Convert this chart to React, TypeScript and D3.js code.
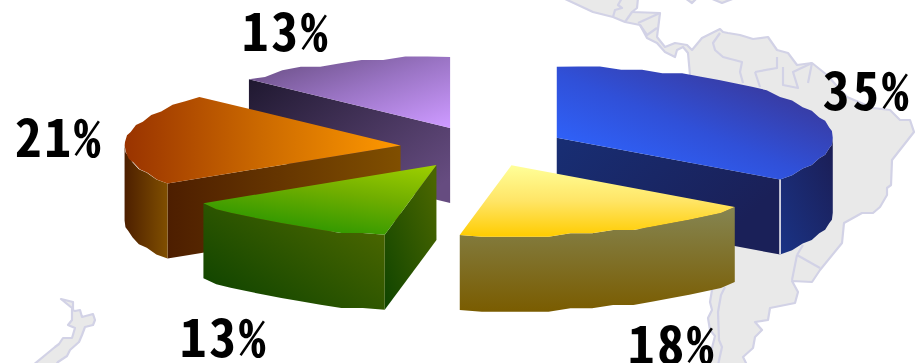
import React from "react";
import * as d3 from "d3";

// Share of each region, clockwise from twelve o'clock.
const regions = ["A", "B", "C", "D", "E"];
const shares = [35, 18, 13, 21, 13];

const topStops = [
  ["#2f62fa", "#3050d8", "#383ca4"],
  ["#ffff99", "#ffe566", "#ffcc00"],
  ["#9fd000", "#70ae00", "#339900"],
  ["#ff9900", "#cc6a00", "#993300"],
  ["#cc99ff", "#9a74c4", "#664c80"],
];
const rimStops = [
  ["#1a3283", "#1b1e56"],
  ["#858552", "#7a5c00"],
  ["#0f4400", "#4a6600"],
  ["#4d1f00", "#804f00"],
  ["#1f1830", "#1f1830"],
];
const sideStops = [
  ["#182e74", "#1a2058"],
  ["#858552", "#7a5c00"],
  ["#0f4400", "#4a6600"],
  ["#4d1e00", "#804f00"],
  ["#1f1830", "#664c80"],
];
// Gradient direction in each part's bounding box: x1, y1, x2, y2.
const topVectors = [
  [0, 0.68, 0.62, 0.05],
  [0, 0, 0, 1],
  [1, 0, 0.5, 0.95],
  [1, 0, 0, 0],
  [1, 0.95, 0.05, 0],
];
const rimVectors = [
  [0.1, 1, 1, 0.1],
  [0, 0, 0, 1],
  [0.15, 1, 1, 0.25],
  [0, 0, 1, 0],
  [0, 0, 1, 0],
];
const sideVectors = [
  [0, 0, 0.95, 0.5],
  [0, 0, 0, 1],
  [0, 1, 0.95, 0.1],
  [0, 0, 1, 0],
  [0, 0, 1, 0.8],
];
const labelBoxes = [
  [823, 110],
  [628, 364],
  [180, 357],
  [15, 157],
  [242, 51],
];
const nudges = [
  [0, 0],
  [-2, -2],
  [0, 0],
  [0, 0],
  [0, 0],
];

const centre = [483, 147.5];
const radiusX = 276;
const radiusY = 71;
const depth = 75;
const explode = 0.3;
const stepY = 3.4;
const stepAngle = (4.5 * Math.PI) / 180;

// Landmasses and national borders drawn faintly behind the pie.
const landAreas = [
  "M563,-2L593,12L613,17L625,22L640,25L647,38L657,43L665,52L675,57L677,50L683,47L688,53L690,75L692,150L712,290L710,302L712,310L708,318L710,330L715,336L711,352L708,365L747,365L743,357L753,348L755,337L762,330L755,322L768,320L770,308L795,303L798,292L792,281L812,282L820,270L842,243L844,223L862,213L873,213L880,207L887,195L887,188L891,185L892,160L914,132L910,120L900,120L890,110L873,108L847,97L827,75L812,63L797,65L788,53L777,50L768,37L753,39L740,35L728,33L723,32L720,29L702,38L692,50L687,45L675,43L665,47L657,37L660,13L632,12L637,8L638,-2Z",
  "M685,-2L692,3L697,-2Z",
  "M710,-2L722,3L735,-2Z",
  "M61,299L73,302L73,310L75,311L80,310L82,317L93,314L95,320L93,325L85,327L82,335L79,342L70,350L67,356L58,362L55,366L32,366L55,347L59,344L63,338L72,338L75,328L68,325L72,320L72,308Z",
];
const borderLines = [
  "M622,-2L618,5L622,8L615,10L613,17",
  "M632,12L625,22",
  "M638,23L660,13",
  "M640,25L647,35L657,28",
  "M720,33L713,43L715,50L723,57L742,62L740,72L743,83",
  "M755,72L777,68L777,57",
  "M755,72L760,87",
  "M783,67L783,85L798,88L793,72L812,63",
  "M808,83L812,63",
  "M797,255L792,280",
  "M797,255L820,268",
  "M797,255L803,245",
  "M725,287L721,295L718,312L719,340L722,347L718,365",
];

const slices = d3.pie<number>().sort(null).startAngle(0).endAngle(2 * Math.PI)(shares);

const project = (cx: number, cy: number, angle: number): [number, number] => [
  cx + radiusX * Math.sin(angle),
  cy - radiusY * Math.cos(angle),
];

// Faceted outer edge: coarse angular samples with y snapped to a coarse grid.
const edgePoints = (cx: number, cy: number, a0: number, a1: number): [number, number][] => {
  const n = Math.max(1, Math.round((a1 - a0) / stepAngle));
  return d3.range(n + 1).map((i) => {
    const a = a0 + ((a1 - a0) * i) / n;
    const [x, y] = project(cx, cy, a);
    const snapped = Math.round((y - cy) / stepY) * stepY + cy;
    return [x, i === 0 || i === n ? y : snapped] as [number, number];
  });
};

const outline = d3.line<[number, number]>();

export default function App() {
  const parts = slices.map((s, i) => {
    const mid = (s.startAngle + s.endAngle) / 2;
    const cx = centre[0] + radiusX * explode * Math.sin(mid) + nudges[i][0];
    const cy = centre[1] - radiusY * explode * Math.cos(mid) + nudges[i][1];
    const edge = edgePoints(cx, cy, s.startAngle, s.endAngle);
    const top = outline([[cx, cy], ...edge])! + "Z";

    const rimFrom = Math.max(s.startAngle, Math.PI / 2);
    const rimTo = Math.min(s.endAngle, (3 * Math.PI) / 2);
    let rim: string | null = null;
    if (rimTo > rimFrom) {
      const e = edgePoints(cx, cy, rimFrom, rimTo);
      const lower = e.map(([x, y]) => [x, y + depth] as [number, number]).reverse();
      rim = outline([...e, ...lower])! + "Z";
    }

    const sideWall = (a: number) => {
      const [x, y] = project(cx, cy, a);
      return outline([[cx, cy], [x, y], [x, y + depth], [cx, cy + depth]])! + "Z";
    };
    const side =
      Math.sin(s.endAngle) > 1e-6
        ? sideWall(s.endAngle)
        : Math.sin(s.startAngle) < -1e-6
        ? sideWall(s.startAngle)
        : null;
    const seam =
      Math.sin(s.endAngle) > 1e-6 && Math.sin(s.startAngle) >= 0 && i === 0
        ? project(cx, cy, s.endAngle)
        : null;
    return { i, cy, top, rim, side, seam };
  });
  const ordered = d3.sort(parts, (p) => p.cy);

  const gradient = (id: string, v: number[], stops: string[]) => (
    <linearGradient key={id} id={id} x1={v[0]} y1={v[1]} x2={v[2]} y2={v[3]}>
      {stops.map((c, k) => (
        <stop key={k} offset={k / (stops.length - 1)} stopColor={c} />
      ))}
    </linearGradient>
  );

  return (
    <svg
      width={915}
      height={363}
      viewBox="0 0 915 363"
      style={{ position: "fixed", left: 0, top: 0, background: "#ffffff" }}
    >
      <defs>
        {regions.map((_, i) => (
          <React.Fragment key={i}>
            {gradient(`top${i}`, topVectors[i], topStops[i])}
            {gradient(`rim${i}`, rimVectors[i], rimStops[i])}
            {gradient(`side${i}`, sideVectors[i], sideStops[i])}
          </React.Fragment>
        ))}
      </defs>
      <g fill="#e9e9e9" stroke="#d2d2e6" strokeWidth={2.2} strokeLinejoin="round">
        {landAreas.map((d, i) => (
          <path key={i} d={d} />
        ))}
        {borderLines.map((d, i) => (
          <path key={i} d={d} fill="none" />
        ))}
      </g>
      {ordered.map((p) => (
        <g key={p.i}>
          {p.side && <path d={p.side} fill={`url(#side${p.i})`} />}
          {p.rim && <path d={p.rim} fill={`url(#rim${p.i})`} />}
          <path d={p.top} fill={`url(#top${p.i})`} />
          {p.seam && (
            <line
              x1={p.seam[0]}
              y1={p.seam[1]}
              x2={p.seam[0]}
              y2={p.seam[1] + depth}
              stroke="#d8d8e4"
              strokeWidth={1.8}
            />
          )}
        </g>
      ))}
      {shares.map((v, i) => (
        <text
          key={i}
          x={labelBoxes[i][0]}
          y={labelBoxes[i][1]}
          fontFamily="'Noto Sans CJK JP', 'Liberation Mono', monospace"
          fontWeight={700}
          fontSize={53}
          letterSpacing={3}
          fill="#000000"
          style={{ fontFeatureSettings: '"hwid"' }}
        >
          {`${v}%`}
        </text>
      ))}
    </svg>
  );
}
